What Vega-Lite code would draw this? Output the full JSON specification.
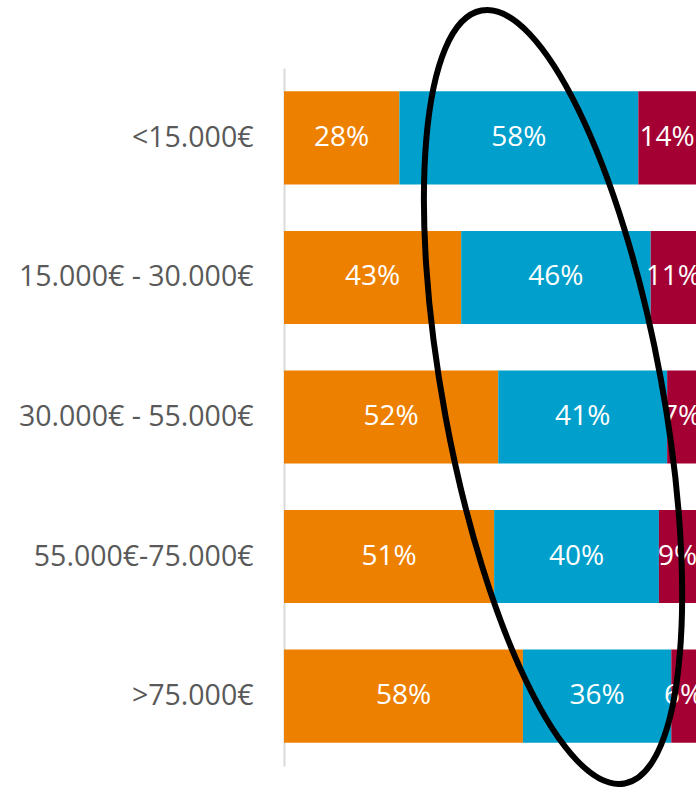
{
  "$schema": "https://vega.github.io/schema/vega-lite/v6.json",
  "width": 412,
  "height": 698,
  "autosize": {"type": "none"},
  "padding": {"left": 284, "top": 68, "right": 2, "bottom": 23},
  "background": "white",
  "config": {"view": {"stroke": null}, "font": "Open Sans"},
  "datasets": {
    "bars": [
      {"income": "<15.000€", "segment": "A", "share": 0.28},
      {"income": "<15.000€", "segment": "B", "share": 0.58},
      {"income": "<15.000€", "segment": "C", "share": 0.14},
      {"income": "15.000€ - 30.000€", "segment": "A", "share": 0.43},
      {"income": "15.000€ - 30.000€", "segment": "B", "share": 0.46},
      {"income": "15.000€ - 30.000€", "segment": "C", "share": 0.11},
      {"income": "30.000€ - 55.000€", "segment": "A", "share": 0.52},
      {"income": "30.000€ - 55.000€", "segment": "B", "share": 0.41},
      {"income": "30.000€ - 55.000€", "segment": "C", "share": 0.07},
      {"income": "55.000€-75.000€", "segment": "A", "share": 0.51},
      {"income": "55.000€-75.000€", "segment": "B", "share": 0.40},
      {"income": "55.000€-75.000€", "segment": "C", "share": 0.09},
      {"income": ">75.000€", "segment": "A", "share": 0.58},
      {"income": ">75.000€", "segment": "B", "share": 0.36},
      {"income": ">75.000€", "segment": "C", "share": 0.06}
    ],
    "note": [{"income": "30.000€ - 55.000€", "share": 0.653}]
  },
  "encoding": {
    "y": {
      "field": "income",
      "type": "nominal",
      "sort": ["<15.000€", "15.000€ - 30.000€", "30.000€ - 55.000€", "55.000€-75.000€", ">75.000€"],
      "scale": {"paddingInner": 0.333, "paddingOuter": 0.167},
      "axis": {"title": null, "ticks": false, "grid": false, "domainColor": "#d9d9d9", "domainWidth": 2, "labelFontSize": 28.5, "labelColor": "#595959", "labelPadding": 31, "labelFont": "Open Sans", "labelLimit": 400}
    }
  },
  "layer": [
    {
      "data": {"name": "bars"},
      "mark": {"type": "bar"},
      "encoding": {
        "x": {"field": "share", "type": "quantitative", "stack": "zero", "scale": {"domain": [0, 1], "nice": false}, "axis": null},
        "color": {"field": "segment", "type": "nominal", "scale": {"domain": ["A", "B", "C"], "range": ["#EE8000", "#009FCC", "#A50034"]}, "legend": null},
        "order": {"field": "segment", "sort": "ascending"}
      }
    },
    {
      "data": {"name": "bars"},
      "mark": {"type": "text", "color": "white", "fontSize": 28, "font": "Open Sans", "align": "center", "baseline": "middle"},
      "encoding": {
        "x": {"field": "share", "type": "quantitative", "stack": "zero", "bandPosition": 0.5},
        "detail": {"field": "segment", "type": "nominal"},
        "order": {"field": "segment", "sort": "ascending"},
        "text": {"field": "share", "type": "quantitative", "format": ".0%"}
      }
    },
    {
      "data": {"name": "note"},
      "mark": {"type": "point", "filled": false, "stroke": "black", "strokeWidth": 6, "opacity": 1, "shape": "M -0.1822 -0.9833 A 1 0.278 79.5 1 1 0.1822 0.9833 A 1 0.278 79.5 1 1 -0.1822 -0.9833 Z", "size": 617796, "yOffset": -20},
      "encoding": {
        "x": {"field": "share", "type": "quantitative"}
      }
    }
  ]
}
